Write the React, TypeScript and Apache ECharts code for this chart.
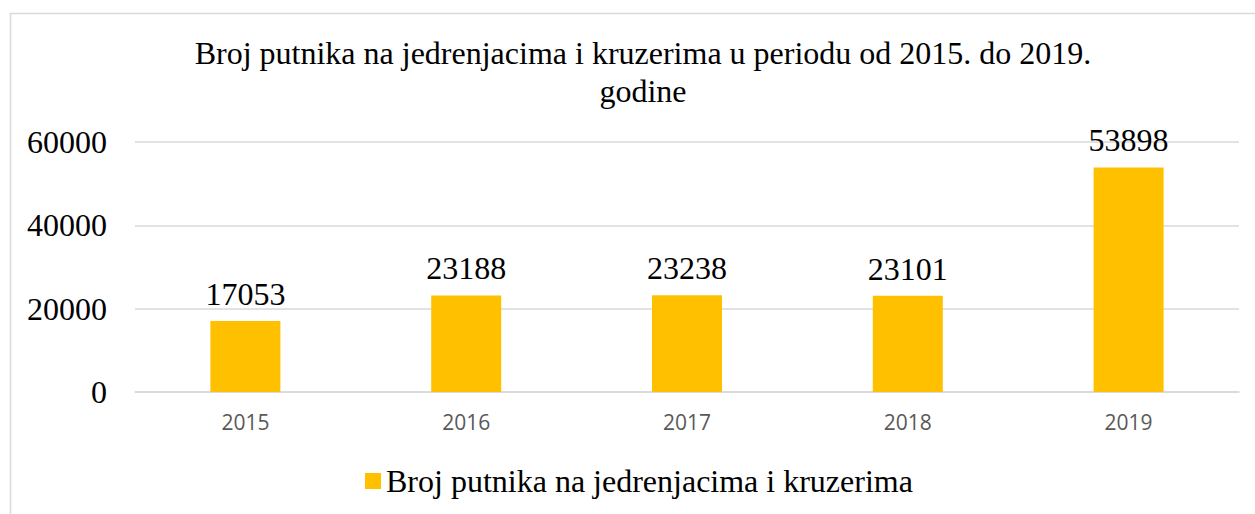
import React, { useEffect, useRef } from "react";
import * as echarts from "echarts";

const years = ["2015", "2016", "2017", "2018", "2019"];
const passengers = [17053, 23188, 23238, 23101, 53898];
const seriesName = "Broj putnika na jedrenjacima i kruzerima";
const titleText = "Broj putnika na jedrenjacima i kruzerima u periodu od 2015. do 2019.\ngodine";

const SERIF = "'Liberation Serif', 'Times New Roman', serif";
const SANS = "'Open Sans', 'Liberation Sans', sans-serif";

export default function App() {
  const ref = useRef<HTMLDivElement>(null);
  useEffect(() => {
    if (!ref.current) return;
    const chart = echarts.init(ref.current, null, { renderer: "svg" });
    chart.setOption({
      animation: false,
      backgroundColor: "#ffffff",
      title: {
        text: titleText,
        left: 638,
        top: 29,
        textAlign: "center",
        textStyle: {
          fontFamily: SERIF,
          fontSize: 32,
          fontWeight: "normal",
          color: "#000000",
          lineHeight: 38,
        },
      },
      graphic: [
        {
          type: "rect",
          shape: { x: 10.5, y: 13.5, width: 1400, height: 700 },
          style: { fill: "none", stroke: "#d9d9d9", lineWidth: 1.5 },
          silent: true,
          z: -10,
        },
      ],
      legend: {
        data: [seriesName],
        left: 360,
        top: 460,
        icon: "rect",
        itemWidth: 16,
        itemHeight: 16,
        textStyle: { fontFamily: SERIF, fontSize: 32, color: "#000000" },
      },
      grid: { left: 135, right: 16, top: 142, bottom: 122 },
      xAxis: {
        type: "category",
        data: years,
        axisLine: { lineStyle: { color: "#d9d9d9", width: 1.5 } },
        axisTick: { show: false },
        axisLabel: { color: "#595959", fontFamily: SANS, fontSize: 21, margin: 19 },
      },
      yAxis: {
        type: "value",
        min: 0,
        max: 60000,
        interval: 20000,
        axisLine: { show: false },
        axisTick: { show: false },
        splitLine: { lineStyle: { color: "#d9d9d9", width: 1.5 } },
        axisLabel: {
          color: "#000000",
          fontFamily: SERIF,
          fontSize: 32,
          margin: 28,
          formatter: (v: number) => String(v),
        },
      },
      series: [
        {
          name: seriesName,
          type: "bar",
          data: passengers,
          barWidth: 70,
          itemStyle: { color: "#FFC000" },
          label: {
            show: true,
            position: "top",
            distance: 11,
            fontFamily: SERIF,
            fontSize: 32,
            color: "#000000",
          },
        },
      ],
    });
    return () => chart.dispose();
  }, []);
  return (
    <div
      ref={ref}
      style={{ position: "absolute", left: 0, top: 0, width: 1255, height: 514 }}
    />
  );
}
